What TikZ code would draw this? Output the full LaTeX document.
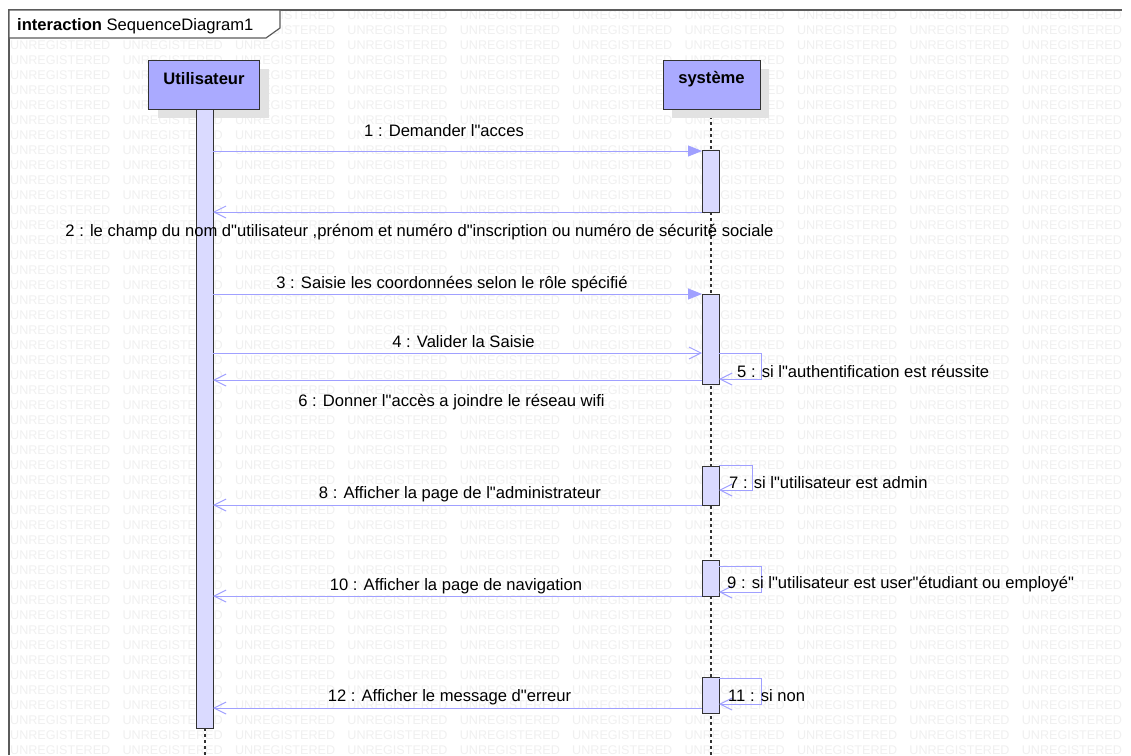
\documentclass[tikz,border=0pt]{standalone}
\usepackage{fontspec}
\setmainfont{Liberation Sans}[Ligatures=TeXOff]
\usetikzlibrary{arrows.meta}
\definecolor{wm}{RGB}{240,240,240}
\definecolor{headfill}{RGB}{170,170,255}
\definecolor{barfill}{RGB}{218,218,255}
\definecolor{msg}{RGB}{160,160,255}
\definecolor{edge}{RGB}{50,50,50}
\definecolor{shadowc}{RGB}{226,226,226}
\newcommand\mylbl{\fontsize{16.6}{19}\selectfont}
\newcommand\mywm{\fontsize{12.6}{14}\selectfont}
\tikzset{
  wmtext/.style={text=wm, font=\mywm, inner sep=0pt, anchor=base west},
  headbox/.style={draw=edge, fill=headfill, line width=1pt, inner sep=0pt, minimum width=#1, minimum height=49pt},
  headshadow/.style={fill=shadowc, draw=none, inner sep=0pt, minimum width=#1, minimum height=49pt},
  headtext/.style={font=\mylbl\bfseries, inner sep=0pt, anchor=base},
  actbar/.style={draw=edge, fill=barfill, line width=1pt, inner sep=0pt, minimum width=17pt, anchor=north},
  lifeline/.style={draw=edge, line width=1.4pt, dash pattern=on 3pt off 3pt},
  syncmsg/.style={draw=msg, line width=1pt, -{Triangle[length=14pt,width=11pt,fill=msg]}},
  openmsg/.style={draw=msg, line width=1pt, -{Straight Barb[length=12pt,width=12pt]}},
  msglbl/.style={font=\mylbl, inner sep=0pt, anchor=base},
  selflbl/.style={font=\mylbl, inner sep=0pt, anchor=base west},
}
\begin{document}
\begin{tikzpicture}[x=1pt,y=-1pt]
\useasboundingbox (0,0) rectangle (1131,755);
\fill[white] (0,0) rectangle (1131,755);
% watermark
\foreach \k in {1,...,50}{
  \foreach \j in {0,...,9}{
    \node[wmtext] (w-\k-\j) at ({10+112.4*\j},{15*\k+4.5}) {UNREGISTERED};
  }
}
% frame
\draw[draw=edge!80, line width=1.5pt] (9,755) -- (9,10) -- (1122,10);
\draw[draw=edge!80, line width=1.2pt, fill=white] (9,10) -- (280,10) -- (280,28) -- (266,38) -- (9,38) -- cycle;
\node[anchor=base west, inner sep=0pt, font=\mylbl] (title) at (17,30) {\textbf{interaction} SequenceDiagram1};
% lifelines
\coordinate (slt) at (711,110);
\coordinate (slb) at (711,755);
\draw[lifeline] (slt) -- (slb);
\coordinate (ult) at (205,728);
\coordinate (ulb) at (205,755);
\draw[lifeline] (ult) -- (ulb);
% heads
\node[headshadow=111pt] (ush) at (213.5,93.5) {};
\node[headbox=111pt] (uh) at (203.5,84.5) {};
\node[headtext] (ut) at (204,84) {Utilisateur};
\node[headshadow=97pt] (ssh) at (720.5,93.5) {};
\node[headbox=97pt] (sh) at (711.5,84.5) {};
\node[headtext] (st) at (711.5,83) {système};
% activation bars
\node[actbar, minimum height=619pt] (ub) at (204.5,109) {};
\node[actbar, minimum height=62pt] (b1) at (710.5,150) {};
\node[actbar, minimum height=90pt] (b2) at (710.5,294) {};
\node[actbar, minimum height=39pt] (b3) at (710.5,466) {};
\node[actbar, minimum height=36pt] (b4) at (710.5,560) {};
\node[actbar, minimum height=36pt] (b5) at (710.5,677) {};
% message end points
\coordinate (m1a) at (213,151); \coordinate (m1b) at (702,151);
\coordinate (m2a) at (702,212); \coordinate (m2b) at (213,212);
\coordinate (m3a) at (213,294); \coordinate (m3b) at (702,294);
\coordinate (m4a) at (213,353); \coordinate (m4b) at (702,353);
\coordinate (m6a) at (702,380); \coordinate (m6b) at (213,380);
\coordinate (m8a) at (702,505); \coordinate (m8b) at (213,505);
\coordinate (m10a) at (702,596); \coordinate (m10b) at (213,596);
\coordinate (m12a) at (702,708); \coordinate (m12b) at (213,708);
% messages
\draw[syncmsg] (m1a) -- (m1b);
\draw[openmsg] (m2a) -- (m2b);
\draw[syncmsg] (m3a) -- (m3b);
\draw[openmsg] (m4a) -- (m4b);
\draw[openmsg] (m6a) -- (m6b);
\draw[openmsg] (m8a) -- (m8b);
\draw[openmsg] (m10a) -- (m10b);
\draw[openmsg] (m12a) -- (m12b);
% self messages
\coordinate (s5a) at (719,353); \coordinate (s5b) at (719,379);
\draw[openmsg] (s5a) -- (761,353) -- (761,379) -- (s5b);
\coordinate (s7a) at (719,465); \coordinate (s7b) at (719,490);
\draw[openmsg] (s7a) -- (752,465) -- (752,490) -- (s7b);
\coordinate (s9a) at (719,566); \coordinate (s9b) at (719,592);
\draw[openmsg] (s9a) -- (761,566) -- (761,592) -- (s9b);
\coordinate (s11a) at (719,678); \coordinate (s11b) at (719,704);
\draw[openmsg] (s11a) -- (761,678) -- (761,704) -- (s11b);
% labels
\node[msglbl] (l1) at (444,136) {1 : Demander l"acces};
\node[msglbl] (l2) at (419.5,236) {2 : le champ du nom d"utilisateur ,prénom et numéro d"inscription ou numéro de sécurité sociale};
\node[msglbl] (l3) at (452,288) {3 : Saisie les coordonnées selon le rôle spécifié};
\node[msglbl] (l4) at (463.5,347) {4 : Valider la Saisie};
\node[selflbl] (l5) at (737,377) {5 : si l"authentification est réussite};
\node[msglbl] (l6) at (451.5,406) {6 : Donner l"accès a joindre le réseau wifi};
\node[selflbl] (l7) at (729,488) {7 : si l"utilisateur est admin};
\node[msglbl] (l8) at (460,498) {8 : Afficher la page de l"administrateur};
\node[selflbl] (l9) at (727,588) {9 : si l"utilisateur est user"étudiant ou employé"};
\node[msglbl] (l10) at (456,590) {10 : Afficher la page de navigation};
\node[selflbl] (l11) at (728,701) {11 : si non};
\node[msglbl] (l12) at (449.5,701) {12 : Afficher le message d"erreur};
\end{tikzpicture}
\end{document}
